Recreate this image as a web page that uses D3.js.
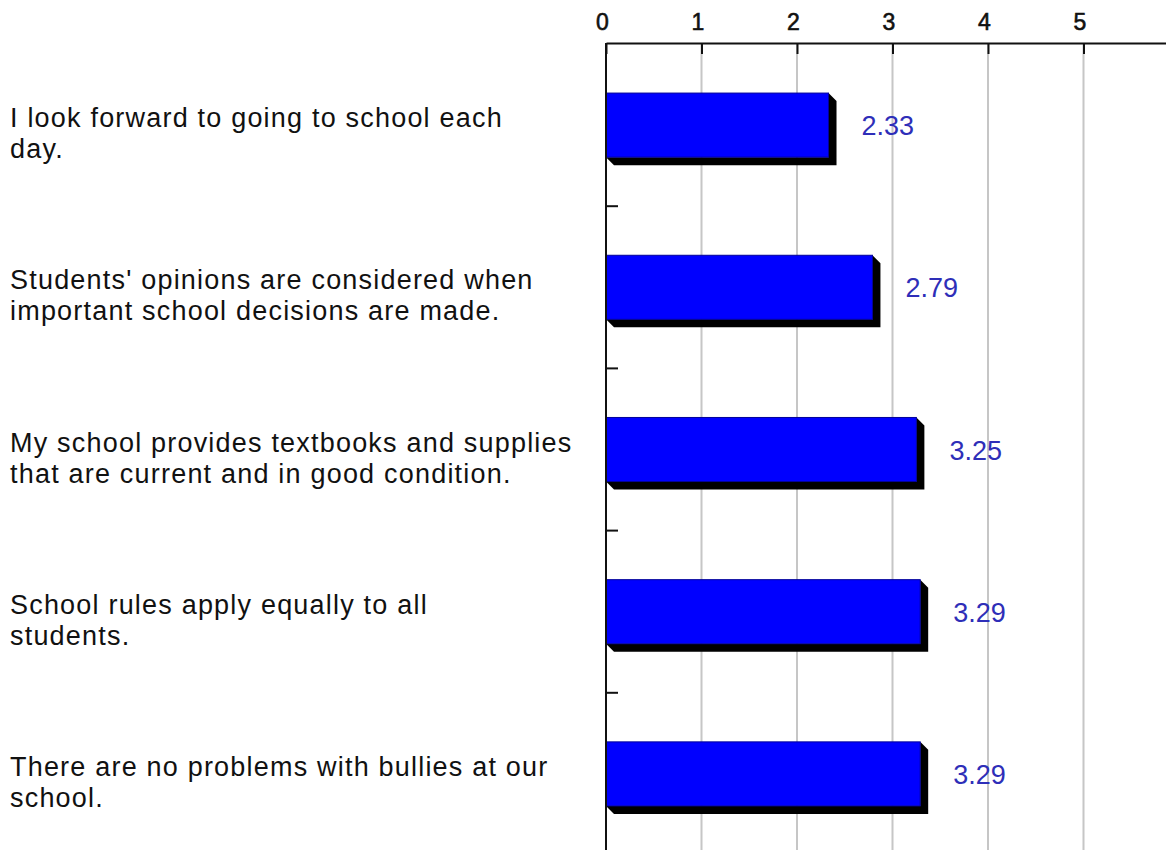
<!DOCTYPE html>
<html>
<head>
<meta charset="utf-8">
<script src="https://cdnjs.cloudflare.com/ajax/libs/d3/7.8.5/d3.min.js"></script>
<style>
    body { margin: 0; background: #ffffff; }
    svg { display: block; }
</style>
</head>
<body>
<svg id="chart" width="1166" height="850"></svg>
<script>
var categories = [
    ['I look forward to going to school each', 'day.'],
    ['Students\' opinions are considered when', 'important school decisions are made.'],
    ['My school provides textbooks and supplies', 'that are current and in good condition.'],
    ['School rules apply equally to all', 'students.'],
    ['There are no problems with bullies at our', 'school.']
];
var values = [2.33, 2.79, 3.25, 3.29, 3.29];
var valueLabels = ['2.33', '2.79', '3.25', '3.29', '3.29'];
var xTicks = [0, 1, 2, 3, 4, 5];

var svg = d3.select('#chart');
var width = 1166;
var height = 850;
var plotLeft = 606;
var plotTop = 43;
var depth = 8;

var x = d3.scaleLinear().domain([0, 6]).range([plotLeft, 1179]);
var y = d3.scaleBand().domain(d3.range(categories.length)).range([44, 855]).padding(0);
var barH = y.bandwidth() * 0.395;

// grid
svg.append('g')
    .selectAll('line')
    .data(xTicks.slice(1))
    .enter()
    .append('line')
    .attr('x1', function(d) { return x(d); })
    .attr('x2', function(d) { return x(d); })
    .attr('y1', plotTop)
    .attr('y2', height)
    .attr('stroke', '#c6c6c6')
    .attr('stroke-width', 2);

// bar shadows (extruded look)
svg.append('g')
    .selectAll('polygon')
    .data(values)
    .enter()
    .append('polygon')
    .attr('points', function(d, i)
    {
        var x0 = x(0), xe = x(d);
        var yt = y(i) + (y.bandwidth() - barH) / 2;
        var yb = yt + barH;
        return [[x0, yb], [xe, yb], [xe, yt], [xe + depth, yt + depth],
                [xe + depth, yb + depth], [x0 + depth, yb + depth]].join(' ');
    })
    .attr('fill', '#000000');

svg.append('g')
    .selectAll('rect')
    .data(values)
    .enter()
    .append('rect')
    .attr('x', x(0))
    .attr('y', function(d, i) { return y(i) + (y.bandwidth() - barH) / 2; })
    .attr('width', function(d) { return x(d) - x(0); })
    .attr('height', barH)
    .attr('fill', '#0000ff')
    .attr('stroke', '#00009a')
    .attr('stroke-width', 1);

// value labels
svg.append('g')
    .selectAll('text')
    .data(values)
    .enter()
    .append('text')
    .attr('x', function(d) { return x(d) + 33; })
    .attr('y', function(d, i) { return y(i) + y.bandwidth() / 2 + 10; })
    .attr('font-family', 'Liberation Sans, Arial, sans-serif')
    .attr('font-size', 27)
    .attr('fill', '#2e2eb8')
    .text(function(d, i) { return valueLabels[i]; });

// top axis
var xAxis = d3.axisTop(x)
    .tickValues(xTicks)
    .tickFormat(d3.format('d'))
    .tickSize(-11)
    .tickSizeOuter(0)
    .tickPadding(13);

var gx = svg.append('g')
    .attr('transform', 'translate(0,' + plotTop + ')')
    .call(xAxis);
gx.attr('font-size', null).attr('font-family', null);
gx.select('.domain').attr('stroke', '#111').attr('stroke-width', 2);
gx.selectAll('.tick line').attr('stroke', '#111').attr('stroke-width', 2);
gx.selectAll('.tick text')
    .attr('dx', -4)
    .style('font-family', 'Liberation Sans, Arial, sans-serif')
    .style('font-size', '23px')
    .attr('fill', '#111')
    .attr('stroke', '#111')
    .attr('stroke-width', 0.6);

// left axis line with separators between categories
svg.append('line')
    .attr('x1', plotLeft).attr('x2', plotLeft)
    .attr('y1', plotTop).attr('y2', height)
    .attr('stroke', '#111')
    .attr('stroke-width', 2);

svg.append('g')
    .selectAll('line')
    .data(d3.range(1, categories.length))
    .enter()
    .append('line')
    .attr('x1', plotLeft)
    .attr('x2', plotLeft + 12)
    .attr('y1', function(i) { return y(i); })
    .attr('y2', function(i) { return y(i); })
    .attr('stroke', '#111')
    .attr('stroke-width', 2);

// category labels
var labels = svg.append('g')
    .selectAll('text')
    .data(categories)
    .enter()
    .append('text')
    .attr('x', 10)
    .attr('y', function(d, i) { return y(i) + y.bandwidth() / 2 + 2; })
    .attr('font-family', 'Liberation Sans, Arial, sans-serif')
    .attr('font-size', 27)
    .attr('letter-spacing', 1.2)
    .attr('fill', '#111');

labels.selectAll('tspan')
    .data(function(d) { return d; })
    .enter()
    .append('tspan')
    .attr('x', 10)
    .attr('dy', function(d, j) { return j == 0 ? 0 : 31; })
    .text(function(d) { return d; });
</script>
</body>
</html>
